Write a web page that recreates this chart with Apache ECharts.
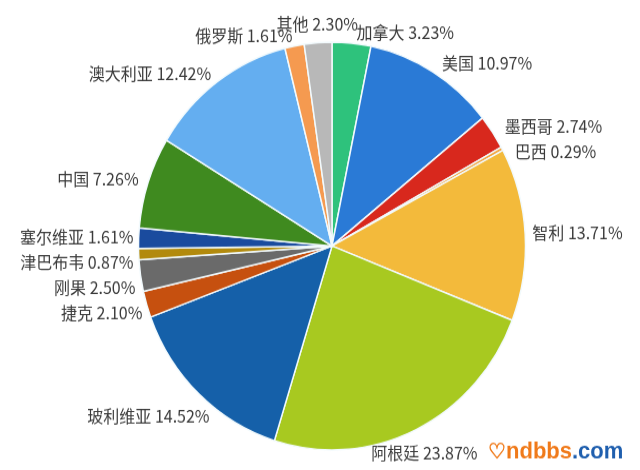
<!DOCTYPE html>
<html>
<head>
<meta charset="utf-8">
<script src="https://cdn.jsdelivr.net/npm/echarts@6/dist/echarts.min.js"></script>
<style>
html,body{margin:0;padding:0;background:#fff;overflow:hidden}
#wrap{width:640px;height:470px;overflow:hidden}
#c{width:640px;height:446px;transform:scaleY(1.0538);transform-origin:0 0}
</style>
</head>
<body>
<div id="wrap"><div id="c"></div></div>
<script>
const categories = ['加拿大','美国','墨西哥','巴西','智利','阿根廷','玻利维亚','捷克','刚果','津巴布韦','塞尔维亚','中国','澳大利亚','俄罗斯','其他'];
const values = [3.23,10.97,2.74,0.29,13.71,23.87,14.52,2.10,2.50,0.87,1.61,7.26,12.42,1.61,2.30];
const colors = ['#2ec27c','#2a7ad6','#d8281d','#f4a53f','#f3ba3b','#a8c920','#1560a9','#c6500f','#6a6a6a','#b28a0d','#1a4b9e','#3f8a1f','#64aef0','#f59a50','#b8b8b8'];

const cx = 332, cy = 233.4, r = 193.5;
const FONT = '16px "Noto Sans CJK SC", sans-serif';
const fmt = (n, v) => n + ' ' + v.toFixed(2) + '%';

// measure label text widths
const mctx = document.createElement('canvas').getContext('2d');
mctx.font = FONT;
const TH = 16;

// label positions derived from each slice's mid angle
const total = values.reduce((a, b) => a + b, 0);
let acc = 0;
const anchors = values.map((v, i) => {
  const mid = (acc + v / 2) / total * 2 * Math.PI;
  acc += v;
  const dx = Math.sin(mid), dy = -Math.cos(mid);
  const w = mctx.measureText(fmt(categories[i], v)).width;
  const R = r + 10;
  const side = dx > 0 ? 1 : -1;
  if (dy > -0.1) {
    // blend of edge-anchored and box-touching placements, as centred boxes
    let ax, ay;
    if (dy > 0.85) { ax = cx + dx * R; ay = cy + dy * R + TH / 2; }
    else { ax = cx + dx * R + side * (w / 2 + (side > 0 ? 4 : 0)); ay = cy + dy * R; }
    const d = r + Math.abs(dx) * w / 2 + Math.abs(dy) * TH / 2;
    const sx = cx + dx * d, sy = cy + dy * d;
    return { x: (ax + sx) / 2, y: (ay + sy) / 2, align: 'center', va: 'middle', side };
  }
  if (Math.abs(dx) < 0.09) {
    return { x: cx + dx * R, y: cy + dy * R, align: 'center', va: 'bottom', side: 0 };
  }
  const align = dx > 0 ? 'left' : 'right';
  const pad = dx > 0 ? 4 : 0;
  return { x: cx + dx * R + pad, y: cy + dy * R, align, va: 'middle', side };
});
[1, -1].forEach(side => {
  const list = anchors.filter(a => a.side === side).sort((a, b) => a.y - b.y);
  for (let k = 1; k < list.length; k++) {
    if (list[k].y - list[k - 1].y < 24) list[k].y = list[k - 1].y + 24;
  }
});

const chart = echarts.init(document.getElementById('c'));
chart.setOption({
  animation: false,
  series: [{
    type: 'pie',
    center: [cx, cy],
    radius: r,
    startAngle: 90,
    clockwise: true,
    avoidLabelOverlap: false,
    data: categories.map((n, i) => ({ name: n, value: values[i], itemStyle: { color: colors[i] } })),
    itemStyle: { borderColor: '#f2fafd', borderWidth: 1.5 },
    label: {
      show: true,
      position: 'outside',
      formatter: p => fmt(p.name, p.value),
      color: '#3b3b3b',
      fontSize: 16,
      fontFamily: '"Noto Sans CJK SC", sans-serif'
    },
    labelLine: { show: false },
    labelLayout: params => {
      const a = anchors[params.dataIndex];
      return { x: a.x, y: a.y, align: a.align, verticalAlign: a.va };
    }
  }],
  graphic: [{
    type: 'text', left: 488, top: 418,
    style: {
      text: '{h|♡}{o|ndbbs}{b|.com}',
      rich: {
        h: { fill: '#f07a1a', font: 'bold 20px sans-serif' },
        o: { fill: '#f07a1a', font: 'bold 22px sans-serif' },
        b: { fill: '#1f5fae', font: 'bold 22px sans-serif' }
      }
    }
  }]
});
</script>
</body>
</html>
